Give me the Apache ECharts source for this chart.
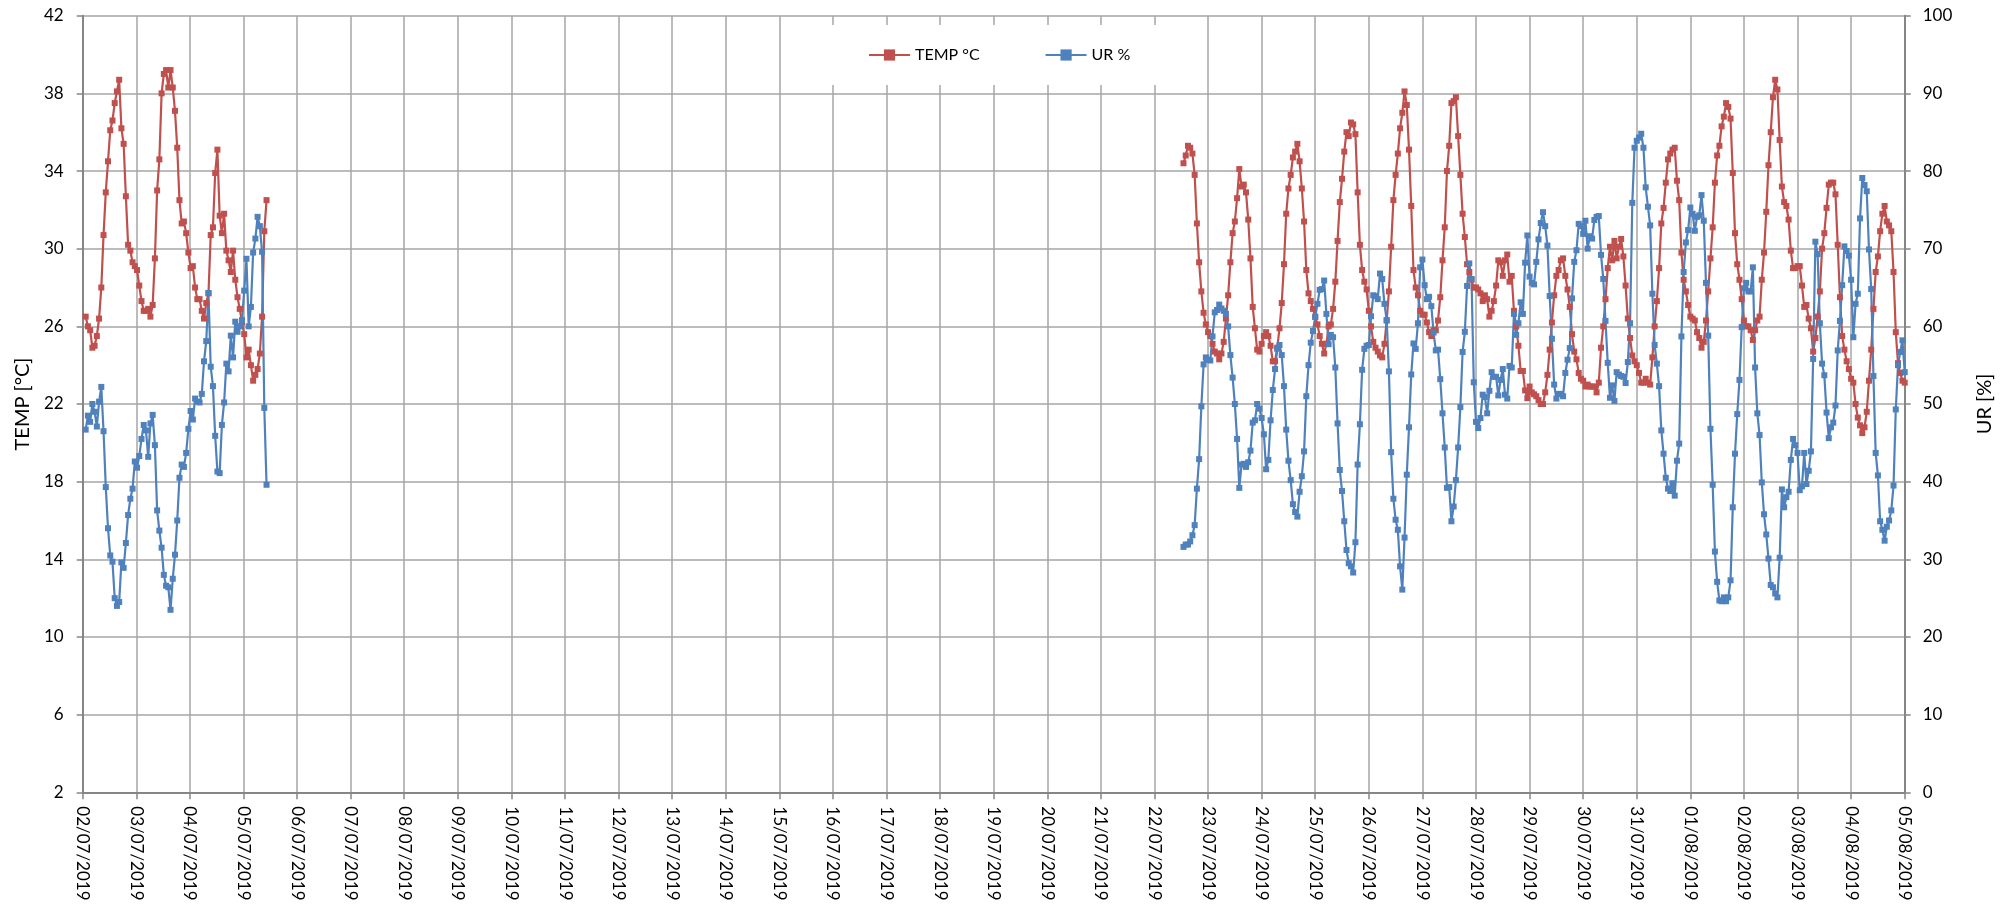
<!DOCTYPE html>
<html><head><meta charset="utf-8">
<script src="https://cdn.jsdelivr.net/npm/echarts@6/dist/echarts.min.js"></script>
<style>html,body{margin:0;padding:0;background:#fff}#c{width:2015px;height:909px}</style>
</head><body><div id="c"></div>
<script>
// Tick labels of the date axis (one per day, axis unit = hours since 02/07/2019 00:00)
const dateLabels = ['02/07/2019','03/07/2019','04/07/2019','05/07/2019','06/07/2019','07/07/2019','08/07/2019','09/07/2019','10/07/2019','11/07/2019','12/07/2019','13/07/2019','14/07/2019','15/07/2019','16/07/2019','17/07/2019','18/07/2019','19/07/2019','20/07/2019','21/07/2019','22/07/2019','23/07/2019','24/07/2019','25/07/2019','26/07/2019','27/07/2019','28/07/2019','29/07/2019','30/07/2019','31/07/2019','01/08/2019','02/08/2019','03/08/2019','04/08/2019','05/08/2019'];
const tempTicks = [2, 6, 10, 14, 18, 22, 26, 30, 34, 38, 42];
const rhTicks = [0, 10, 20, 30, 40, 50, 60, 70, 80, 90, 100];

// Hourly readings. Segment 1 starts 02/07/2019 01:20, segment 2 starts 22/07/2019 13:00
const seg1StartHour = 1 + 20 / 60;
const seg2StartHour = 20 * 24 + 13;

const temp1 = [26.5,26.0,25.8,24.9,25.0,25.5,26.4,28.0,30.7,32.9,
34.5,36.1,36.6,37.5,38.1,38.7,36.2,35.4,32.7,30.2,
29.9,29.3,29.1,28.9,28.1,27.3,26.8,26.8,26.9,26.5,
27.1,29.5,33.0,34.6,38.0,39.0,39.2,38.3,39.2,38.3,
37.1,35.2,32.5,31.3,31.4,30.8,29.8,29.0,29.1,28.0,
27.4,27.4,26.8,26.4,27.2,27.7,30.7,31.1,33.9,35.1,
31.7,30.8,31.8,29.9,29.4,28.8,29.9,28.4,27.5,26.9,
26.2,25.6,24.4,24.8,24.0,23.2,23.5,23.8,24.6,26.5,
30.9,32.5];
const rh1 = [46.7,48.5,47.7,50.0,49.0,47.1,50.3,52.2,46.5,39.3,
34.0,30.5,29.7,25.0,24.0,24.5,29.6,28.9,32.1,35.7,
37.8,39.1,42.6,41.8,43.3,45.5,47.3,46.6,43.2,47.5,
48.6,44.7,36.3,33.7,31.5,28.0,26.6,26.4,23.5,27.5,
30.6,35.0,40.5,42.2,41.9,43.7,46.8,49.1,48.0,50.7,
50.3,50.2,51.3,55.5,58.1,64.3,54.8,52.3,45.9,41.3,
41.1,47.3,50.2,55.2,54.2,58.8,56.0,60.6,59.3,60.0,
60.8,64.6,68.7,60.0,62.5,69.5,71.3,74.1,72.9,69.6,
49.5,39.6];

const temp2 = [34.4,34.8,35.3,35.2,34.9,33.8,31.3,29.3,27.8,26.7,
26.1,25.7,25.5,25.1,24.7,24.6,24.3,24.6,25.2,26.4,
27.6,29.3,30.8,31.4,32.6,34.1,33.2,33.3,32.9,31.5,
29.5,27.0,25.9,24.8,24.7,25.1,25.5,25.7,25.5,25.0,
24.2,24.2,24.9,25.9,27.2,29.2,31.8,33.1,33.8,34.7,
35.0,35.4,34.5,33.1,31.4,28.9,27.7,27.3,26.9,26.5,
26.1,25.5,25.1,24.6,25.1,26.0,26.1,26.9,28.3,30.4,
32.4,33.6,35.0,36.0,35.8,36.5,36.4,35.9,32.9,30.2,
28.9,28.3,27.9,26.8,26.0,25.2,24.9,24.7,24.5,24.4,
25.1,26.3,27.8,30.1,32.5,33.8,34.9,36.2,37.0,38.1,
37.4,35.1,32.2,28.9,28.0,27.6,26.8,26.6,26.6,26.2,
25.7,25.5,25.8,25.8,26.3,27.5,29.4,31.1,34.0,35.3,
37.5,37.6,37.8,35.8,33.8,31.8,30.6,29.2,28.8,28.4,
28.0,28.0,27.9,27.7,27.3,27.6,27.4,26.5,26.8,27.3,
28.1,29.4,29.3,28.6,29.4,29.7,28.3,28.6,26.8,26.0,
25.0,23.7,23.7,22.7,22.3,22.9,22.6,22.5,22.4,22.2,
22.0,22.0,22.6,23.5,24.8,26.2,27.6,28.6,28.9,29.4,
29.5,28.6,27.9,27.0,25.6,24.7,24.3,23.6,23.3,23.2,
22.9,23.0,22.9,22.9,22.9,22.6,23.1,24.9,26.0,27.4,
29.0,30.1,29.4,30.4,29.5,30.1,30.5,29.6,28.1,26.4,
25.4,24.5,24.2,24.0,23.6,23.1,23.1,23.3,23.1,23.0,
24.4,26.0,27.3,29.0,31.3,32.1,33.4,34.6,34.9,35.1,
35.2,33.5,32.5,29.8,28.4,27.8,27.1,26.5,26.4,26.3,
25.7,25.4,24.9,25.2,26.3,27.8,29.5,31.1,33.4,34.8,
35.3,36.3,36.8,37.5,37.3,36.7,33.9,30.8,29.2,28.4,
27.4,26.3,26.0,26.0,25.8,25.3,25.8,26.3,26.5,28.4,
29.8,31.9,34.3,36.0,37.8,38.7,38.2,35.6,33.2,32.4,
32.2,31.5,29.9,29.0,29.0,29.1,29.1,28.1,27.0,27.1,
26.4,25.9,24.7,25.4,26.5,27.8,30.0,30.8,32.1,33.3,
33.4,33.4,32.8,30.2,27.5,25.5,24.8,24.2,23.8,23.3,
23.1,22.0,21.3,20.9,20.5,20.8,21.6,23.2,24.8,26.9,
28.8,29.6,30.9,31.8,32.2,31.4,31.2,30.9,28.8,25.7,
24.1,23.6,23.2,23.1];
const rh2 = [31.6,31.9,31.9,32.3,33.1,34.4,39.1,42.9,49.7,55.1,
56.0,55.7,55.6,58.7,61.8,62.1,62.8,62.3,62.0,61.6,
60.0,56.3,53.4,50.0,45.5,39.2,42.2,42.3,41.9,42.5,
44.0,47.6,47.9,50.0,49.4,48.2,46.1,41.6,42.8,47.9,
51.8,54.5,57.1,57.6,56.3,52.3,46.7,42.7,40.2,37.1,
36.1,35.5,38.7,40.7,43.9,51.0,55.0,57.9,59.4,61.2,
62.9,64.7,64.8,65.9,61.6,57.7,58.9,58.6,54.7,47.5,
41.5,38.8,34.9,31.2,29.5,29.1,28.3,32.2,42.2,47.4,
54.4,57.1,57.5,57.6,61.3,64.0,63.9,63.5,66.8,66.1,
62.9,60.8,54.2,43.8,37.8,35.1,33.8,29.1,26.1,32.8,
40.9,47.0,53.8,57.8,57.1,60.4,67.6,68.6,65.3,63.5,
63.8,62.6,59.2,56.9,57.0,53.2,48.8,44.4,39.2,39.3,
34.9,36.8,40.2,44.4,49.6,56.7,59.3,65.2,68.1,66.1,
52.8,47.7,46.9,48.2,51.2,50.9,48.8,51.7,54.1,53.5,
53.5,51.1,53.1,54.5,51.2,50.7,54.9,54.7,61.6,58.9,
60.4,63.1,61.6,68.2,71.7,66.4,65.6,65.4,68.3,71.2,
73.3,74.7,72.9,70.4,63.9,58.4,52.5,50.7,51.3,51.3,
51.0,54.0,55.7,57.2,63.6,68.3,69.8,73.2,72.9,71.9,
73.6,70.0,71.6,71.3,73.7,74.1,74.2,69.2,66.1,60.7,
55.3,50.8,52.4,50.4,54.1,53.8,53.6,53.5,52.7,55.4,
60.4,75.9,83.0,83.9,84.3,84.8,83.0,77.9,75.4,73.0,
64.2,57.6,55.2,52.3,46.6,43.6,40.5,39.1,38.8,39.8,
38.2,42.7,44.9,58.7,67.0,70.8,72.4,75.3,74.5,72.3,
74.1,74.3,76.9,73.6,65.6,58.8,46.8,39.6,31.0,27.1,
24.7,24.6,25.1,24.6,25.1,27.3,36.7,43.6,48.7,53.1,
59.9,64.9,65.6,64.5,64.5,67.6,54.7,48.8,46.0,39.9,
35.8,33.2,30.1,26.7,26.4,25.6,25.1,30.2,39.0,36.7,
38.0,38.7,42.8,45.5,44.7,43.7,38.9,39.4,43.7,39.7,
41.4,43.9,55.8,70.9,69.3,60.4,55.2,53.7,48.9,45.6,
47.0,47.6,49.8,56.9,60.7,65.3,70.3,69.7,69.1,66.0,
58.6,62.9,64.2,73.9,79.1,78.2,77.4,69.9,64.8,53.6,
43.7,40.8,34.9,33.8,32.4,34.2,35.0,36.3,39.5,49.3,
55.0,56.7,58.2,54.1];

function buildSeries(a, b) {
  const out = [];
  a.forEach((v, i) => out.push([seg1StartHour + i, v]));
  out.push([(seg1StartHour + a.length + seg2StartHour) / 2, '-']);
  b.forEach((v, i) => out.push([seg2StartHour + i, v]));
  return out;
}

const FONT = 'Lato';
const RED = '#C0504D', BLUE = '#4F81BD';
const AXIS_C = '#868686', GRID_C = '#a6a6a6';

const chart = echarts.init(document.getElementById('c'), null, {renderer: 'canvas'});
chart.setOption({
  animation: false,
  backgroundColor: '#fff',
  textStyle: {fontFamily: FONT},
  grid: {left: 82.7, right: 110.3, top: 15.7, bottom: 116.7, containLabel: false},
  legend: {
    data: ['TEMP °C', 'UR %'],
    left: 820, top: 25,
    padding: [22, 50, 22, 48],
    backgroundColor: '#fff',
    itemWidth: 41, itemHeight: 14, itemGap: 65,
    textStyle: {fontSize: 16, color: '#000', fontFamily: FONT}
  },
  xAxis: {
    type: 'value', min: 0, max: (dateLabels.length - 1) * 24, interval: 24,
    axisLine: {show: true, onZero: false, lineStyle: {color: AXIS_C, width: 2}},
    axisTick: {show: true, length: 7, lineStyle: {color: AXIS_C, width: 1.5}},
    axisLabel: {rotate: -90, margin: 14, fontSize: 17, color: '#000', fontFamily: FONT,
      formatter: v => dateLabels[Math.round(v / 24)] || ''},
    splitLine: {show: true, lineStyle: {color: GRID_C, width: 1.5}}
  },
  yAxis: [{
    type: 'value', position: 'left', min: tempTicks[0], max: tempTicks[tempTicks.length - 1],
    interval: tempTicks[1] - tempTicks[0],
    name: 'TEMP [°C]', nameLocation: 'middle', nameGap: 50,
    nameTextStyle: {fontSize: 20, color: '#000', fontFamily: FONT},
    axisLine: {show: true, lineStyle: {color: AXIS_C, width: 2}},
    axisTick: {show: true, length: 6, lineStyle: {color: AXIS_C, width: 1.5}},
    axisLabel: {fontSize: 17, color: '#000', margin: 19, fontFamily: FONT},
    splitLine: {show: true, lineStyle: {color: GRID_C, width: 1.5}}
  }, {
    type: 'value', position: 'right', min: rhTicks[0], max: rhTicks[rhTicks.length - 1],
    interval: rhTicks[1] - rhTicks[0],
    name: 'UR [%]', nameLocation: 'middle', nameGap: 70,
    nameTextStyle: {fontSize: 20, color: '#000', fontFamily: FONT},
    axisLine: {show: true, lineStyle: {color: AXIS_C, width: 2}},
    axisTick: {show: true, length: 6, lineStyle: {color: AXIS_C, width: 1.5}},
    axisLabel: {fontSize: 17, color: '#000', margin: 18, fontFamily: FONT},
    splitLine: {show: false}
  }],
  series: [{
    name: 'TEMP °C', type: 'line', yAxisIndex: 0, data: buildSeries(temp1, temp2),
    symbol: 'rect', symbolSize: 6, connectNulls: false,
    lineStyle: {width: 2.2, color: RED}, itemStyle: {color: RED}
  }, {
    name: 'UR %', type: 'line', yAxisIndex: 1, data: buildSeries(rh1, rh2),
    symbol: 'rect', symbolSize: 6, connectNulls: false,
    lineStyle: {width: 2.2, color: BLUE}, itemStyle: {color: BLUE}
  }]
});
</script></body></html>
